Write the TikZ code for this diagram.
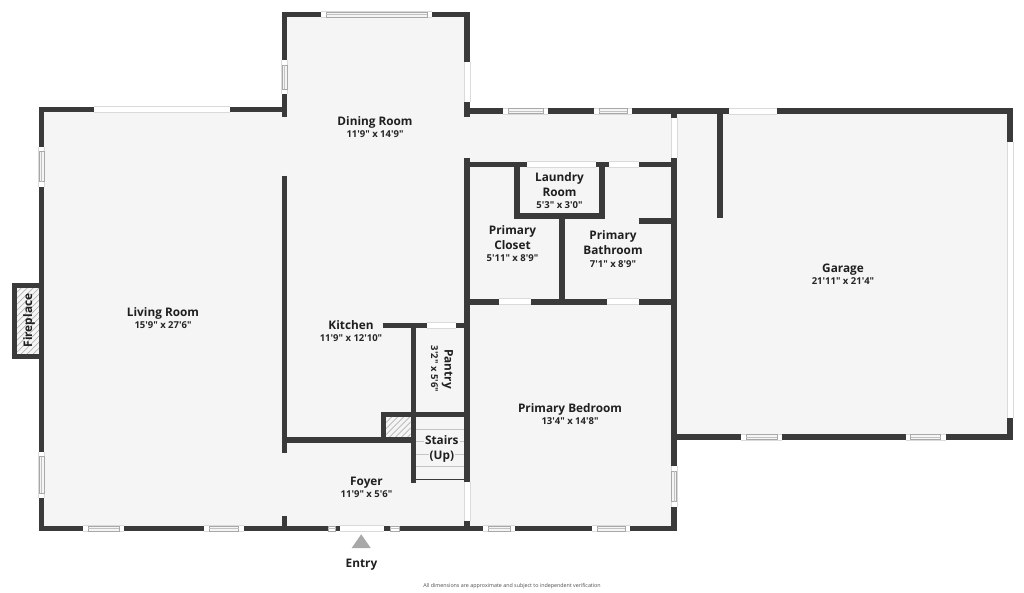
\documentclass[tikz,border=0pt]{standalone}
\usepackage{fontspec}
\newfontfamily\osans{Open Sans}
\definecolor{wallc}{HTML}{3A3A3A}
\definecolor{floorc}{HTML}{F5F5F5}
\definecolor{edgec}{HTML}{DADADA}
\definecolor{glassc}{HTML}{A8A8A8}
\definecolor{treadc}{HTML}{C4C4C4}
\definecolor{hatchc}{HTML}{B4B4B4}
\tikzset{
  wall/.style={draw=wallc,line width=5.6pt,line join=miter,line cap=butt},
  thinwall/.style={draw=wallc,line width=1.4pt},
  tread/.style={draw=treadc,line width=0.8pt},
  roomname/.style={font=\osans\bfseries\fontsize{11.8}{15}\selectfont,text=black!88,align=center,inner sep=0pt},
  roomdim/.style={font=\osans\bfseries\fontsize{9.5}{12}\selectfont,text=black!85,inner sep=0pt},
  note/.style={font=\osans\fontsize{5.33}{7}\selectfont,text=black!70,inner sep=0pt},
}
% openings: horizontal and vertical
\newcommand{\hopen}[3]{\fill[white] (#1,#3-3) rectangle (#2,#3+3);
  \draw[edgec,line width=.6pt] (#1,#3-3) -- (#2,#3-3) (#1,#3+3) -- (#2,#3+3);}
\newcommand{\vopen}[3]{\fill[white] (#1-3,#2) rectangle (#1+3,#3);
  \draw[edgec,line width=.6pt] (#1-3,#2) -- (#1-3,#3) (#1+3,#2) -- (#1+3,#3);}
\newcommand{\hwin}[3]{\hopen{#1}{#2}{#3}
  \fill[floorc] (#1+5,#3-2.6) rectangle (#2-5,#3+2.6);
  \draw[glassc,line width=.6pt] (#1+5,#3-2.6) rectangle (#2-5,#3+2.6);
  \draw[glassc!70,line width=.5pt] (#1+5,#3) -- (#2-5,#3);}
\newcommand{\vwin}[3]{\vopen{#1}{#2}{#3}
  \fill[floorc] (#1-2.6,#2+5) rectangle (#1+2.6,#3-5);
  \draw[glassc,line width=.6pt] (#1-2.6,#2+5) rectangle (#1+2.6,#3-5);
  \draw[glassc!70,line width=.5pt] (#1,#2+5) -- (#1,#3-5);}
\newcommand{\hatchbox}[4]{\begin{scope}
  \clip (#1,#2) rectangle (#3,#4);
  \foreach \k in {-80,-74,...,120}{\draw[hatchc,line width=.7pt] (#1+\k,#4) -- ++(80,-80);}
  \end{scope}}
\begin{document}
\begin{tikzpicture}[x=1pt,y=-1pt]
\useasboundingbox (0,0) rectangle (1024,592);
\fill[white] (0,0) rectangle (1024,592);
% floor
\fill[floorc] (41.5,109.5) -- (284.5,109.5) -- (284.5,14.5) -- (467,14.5) -- (467,110.8)
  -- (1010,110.8) -- (1010,437) -- (674,437) -- (674,528.5) -- (41.5,528.5) -- cycle;
\fill[floorc] (14.5,285.5) rectangle (41.5,356.5);
% hatched areas
\hatchbox{17}{287.7}{39}{354}
\hatchbox{385.7}{417.3}{410.7}{437}
% stair treads
\foreach \y in {429,441.7,454,466.3}{\draw[tread] (416,\y) -- (464.5,\y);}
\draw[thinwall] (416,479.3) -- (464.5,479.3);
% outer walls
\draw[wall] (284.5,116.5) -- (284.5,14.5) -- (467,14.5) -- (467,116.7);
\draw[wall] (284.5,109.5) -- (41.5,109.5) -- (41.5,528.5) -- (674,528.5) -- (674,158.3);
\draw[wall] (464.2,110.8) -- (1010,110.8) -- (1010,141.7);
\draw[wall] (1010,418.3) -- (1010,437) -- (671,437);
\draw[wall] (674,110.8) -- (674,117.7);
\draw[wall] (719.7,110.8) -- (719.7,218.3);
% fireplace
\draw[wall] (41.5,285.5) -- (14.5,285.5) -- (14.5,356.5) -- (41.5,356.5);
% interior walls
\draw[wall] (284.5,175.7) -- (284.5,453.3);
\draw[wall] (284.5,440) -- (413.3,440);
\draw[wall] (382.7,325.3) -- (467,325.3);
\draw[wall] (413.3,325.3) -- (413.3,483);
\draw[wall] (383.3,440) -- (383.3,414.3) -- (467,414.3);
\draw[wall] (467,157.7) -- (467,481.7);
\draw[wall] (467,520.7) -- (467,528.5);
\draw[wall] (284.5,515.7) -- (284.5,528.5);
\draw[wall] (467,164.3) -- (674,164.3);
\draw[wall] (516.7,164.3) -- (516.7,215.7) -- (602,215.7) -- (602,164.3);
\draw[wall] (562,215.7) -- (562,301.7);
\draw[wall] (638.7,221) -- (674,221);
\draw[wall] (467,301.7) -- (674,301.7);
% plain openings
\hopen{94.3}{230.3}{109.5}
\hopen{729}{777.3}{110.8}
\hopen{527.3}{595.7}{164.3}
\hopen{608.7}{638.7}{164.3}
\hopen{499}{531}{301.7}
\hopen{607.3}{639.3}{301.7}
\hopen{427.3}{455.5}{325.3}
\hopen{340}{383.7}{528.5}
\vopen{467}{61.7}{102}
\vopen{674}{117.7}{158.3}
\vopen{467}{481.7}{520.7}
\vopen{1010}{141.7}{418.3}
% windows
\hwin{321}{432.3}{14.5}
\hwin{503.3}{548.3}{110.8}
\hwin{594.3}{632.3}{110.8}
\hwin{83.3}{124.3}{528.5}
\hwin{204}{243.7}{528.5}
\hwin{483.3}{515}{528.5}
\hwin{592.3}{630}{528.5}
\hwin{741}{782.3}{437}
\hwin{905.7}{945.7}{437}
\vwin{284.5}{60}{94.3}
\vwin{41.5}{146.7}{186.7}
\vwin{41.5}{451.7}{498.3}
\vwin{674}{466}{506.7}
% small windows at the entry
\fill[white] (328,525.5) rectangle (335.7,531.5);
\draw[glassc,line width=.6pt] (328,525.8) rectangle (335.7,531.2);
\draw[glassc!70,line width=.5pt] (328,528.5) -- (335.7,528.5);
\fill[white] (390,525.5) rectangle (399,531.5);
\draw[glassc,line width=.6pt] (390,525.8) rectangle (399,531.2);
\draw[glassc!70,line width=.5pt] (390,528.5) -- (399,528.5);
% entry arrow
\fill[glassc] (361.2,534.3) -- (370.7,548) -- (351.7,548) -- cycle;
% labels
\node[roomname] (dining) at (375,122.3) {Dining Room};
\node[roomdim] (diningd) at (375,134) {11'9" x 14'9"};
\node[roomname] (living) at (163,313.3) {Living Room};
\node[roomdim] (livingd) at (163,325) {15'9" x 27'6"};
\node[roomname,rotate=90] (fire) at (29,320.5) {Fireplace};
\node[roomname] (kitchen) at (351,325) {Kitchen};
\node[roomdim] (kitchend) at (351,338) {11'9" x 12'10"};
\node[roomname,rotate=-90] (pantry) at (447.5,369) {Pantry};
\node[roomdim,rotate=-90] (pantryd) at (434.5,369) {3'2" x 5'6"};
\node[roomname,fill=floorc,inner sep=1pt] (stairs) at (441.8,440) {Stairs};
\node[roomname,fill=floorc,inner sep=1pt] (up) at (441.8,456.5) {(Up)};
\node[roomname] (foyer) at (366.5,482.5) {Foyer};
\node[roomdim] (foyerd) at (366.5,494) {11'9" x 5'6"};
\node[roomname] (bedroom) at (570,409.5) {Primary Bedroom};
\node[roomdim] (bedroomd) at (570,421.5) {13'4" x 14'8"};
\node[roomname] (garage) at (843,270) {Garage};
\node[roomdim] (garaged) at (843,281.5) {21'11" x 21'4"};
\node[roomname] (laundry) at (559.5,184.5) {Laundry\\Room};
\node[roomdim] (laundryd) at (559.5,205) {5'3" x 3'0"};
\node[roomname] (closet) at (512.5,237.3) {Primary\\Closet};
\node[roomdim] (closetd) at (512.5,258) {5'11" x 8'9"};
\node[roomname] (bath) at (613,243) {Primary\\Bathroom};
\node[roomdim] (bathd) at (613,264) {7'1" x 8'9"};
\node[roomname] (entry) at (361.5,564.5) {Entry};
\node[note] (disclaimer) at (512,586.5) {All dimensions are approximate and subject to independent verification};
\end{tikzpicture}
\end{document}
